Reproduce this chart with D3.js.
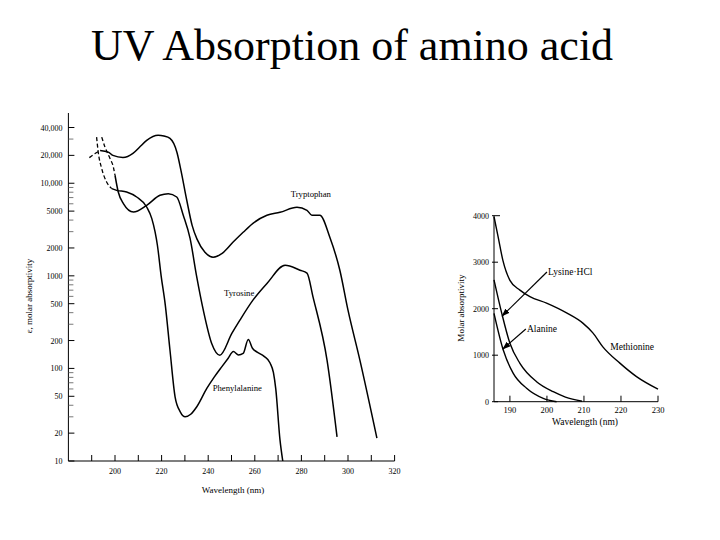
<!DOCTYPE html>
<html>
<head>
<meta charset="utf-8">
<script src="https://cdn.jsdelivr.net/npm/d3@7"></script>
<style>
  html, body { margin: 0; padding: 0; background: #fff; }
  svg { display: block; font-family: "Liberation Serif", "DejaVu Serif", serif; }
</style>
</head>
<body>
<svg id="chart" width="720" height="540"></svg>
<script>
// ---------- Data: left panel (log scale) ----------
const trpDashW = [189.0, 191.3, 193.6];
const trpDashV = [18900, 20800, 22600];
const trpW = [193.6, 197.1, 199.1, 203.4, 207.7, 210.5, 213.6, 218.5, 221, 223.6, 226.6, 228.3, 230.8, 233.1, 235.2, 238.6, 242.1, 246, 250.6, 255, 259.2, 265.2, 270.8, 278.1, 282.4, 284.5, 287.9, 292.2, 296.5, 300, 305.1, 312.4];
const trpV = [22600, 21700, 20000, 19000, 21000, 24500, 29000, 32900, 32300, 30500, 21500, 13800, 6550, 3510, 2490, 1800, 1590, 1750, 2300, 2950, 3690, 4510, 4850, 5500, 5100, 4510, 4510, 2610, 1150, 426, 123, 17.7];

const tyrDashW = [194.3, 195.7, 197.9, 199.3, 200];
const tyrDashV = [31500, 24600, 18400, 14960, 12200];
const tyrW = [200, 201.4, 203.6, 207.9, 213.6, 219.3, 222.9, 226.5, 229.3, 232.2, 235, 237.9, 241.5, 245, 250.2, 253.6, 259.2, 265.3, 273, 279.4, 282.4, 285, 291, 295.3];
const tyrV = [12200, 8040, 6030, 4890, 5780, 7410, 7720, 7100, 4510, 2550, 1000, 426, 186, 139, 240, 332, 546, 832, 1300, 1150, 1070, 588, 123, 18.2];

const pheDashW = [192.1, 192.8, 194.3, 196.4, 198.6];
const pheDashV = [31500, 21700, 14400, 10300, 8750];
const pheW = [198.6, 200.7, 205, 209.3, 213.6, 215.8, 217.2, 218.2, 219.8, 221.6, 223.6, 225.8, 228, 230.1, 232.5, 235.1, 239.4, 242.5, 245.8, 248.5, 250.8, 253, 255, 257.2, 259, 261, 264, 266.5, 268, 269, 270.8, 272];
const pheV = [8750, 8380, 8040, 7100, 5540, 4150, 2980, 2140, 1000, 480, 157, 49, 34, 30, 32, 38.5, 60.8, 80, 104, 128, 152, 140, 145, 205, 165, 150, 135, 115, 90, 60, 17, 10];

const leftXTicks = [190, 200, 210, 220, 230, 240, 250, 260, 270, 280, 290, 300, 310, 320];
const leftXLabels = [200, 220, 240, 260, 280, 300, 320];
const leftYLabels = [10, 20, 50, 100, 200, 500, 1000, 2000, 5000, 10000, 20000, 40000];
const leftYMinor = [30, 40, 60, 70, 80, 90, 300, 400, 600, 700, 800, 900, 3000, 4000, 6000, 7000, 8000, 9000, 30000];

const leftNames = ["Tryptophan", "Tyrosine", "Phenylalanine"];
const leftNameW = [275.4, 246.8, 241.9];
const leftNameV = [7050, 603, 57];

// ---------- Data: right panel (linear scale) ----------
const metW = [185.7, 186.8, 188.1, 190, 192.7, 195.4, 199.9, 205.3, 209.7, 212.4, 215.1, 219.7, 224.2, 230];
const metV = [3980, 3550, 3040, 2610, 2400, 2260, 2120, 1910, 1690, 1480, 1180, 830, 540, 270];
const lysW = [185.7, 187.8, 190, 192.7, 197.2, 201.7, 205, 209.5];
const lysV = [2620, 1900, 1255, 825, 430, 215, 100, 10];
const alaW = [185.7, 188.2, 190.9, 194.5, 199, 202.6];
const alaV = [1900, 1110, 610, 290, 73, 0];

const rightXTicks = [190, 200, 210, 220, 230];
const rightYTicks = [0, 1000, 2000, 3000, 4000];

const rightNames = ["Lysine·HCl", "Alanine", "Methionine"];
const rightNameW = [200.3, 194.6, 217.1];
const rightNameV = [2720, 1500, 1110];
// arrows: [from wavelength, from value, to wavelength, to value]
const arrowFromW = [200.0, 194.3];
const arrowFromV = [2790, 1563];
const arrowToW = [187.9, 188.1];
const arrowToV = [1843, 1133];

// ---------- Drawing ----------
const svg = d3.select("#chart");

svg.append("text")
  .attr("x", 352).attr("y", 60)
  .attr("text-anchor", "middle")
  .attr("font-size", 44)
  .attr("fill", "#000")
  .text("UV Absorption of amino acid");

// Left panel scales
const xL = d3.scaleLinear().domain([180, 320]).range([68.4, 394.6]);
const yL = d3.scaleLog().domain([10, 40000]).range([461, 127.5]);

const gL = svg.append("g");
gL.append("line").attr("x1", xL(180)).attr("x2", xL(180))
  .attr("y1", 113).attr("y2", yL(10)).attr("stroke", "#000").attr("stroke-width", 1);
gL.append("line").attr("x1", xL(180)).attr("x2", xL(320))
  .attr("y1", yL(10)).attr("y2", yL(10)).attr("stroke", "#000").attr("stroke-width", 1.2);

leftYLabels.forEach(v => {
  gL.append("line").attr("x1", xL(180)).attr("x2", xL(180) + 6)
    .attr("y1", yL(v)).attr("y2", yL(v)).attr("stroke", "#000");
  gL.append("text").attr("x", xL(180) - 6).attr("y", yL(v) + 3)
    .attr("text-anchor", "end").attr("font-size", 8).attr("fill", "#000")
    .text(v >= 10000 ? d3.format(",")(v) : String(v));
});
leftYMinor.forEach(v => {
  gL.append("line").attr("x1", xL(180)).attr("x2", xL(180) + 5)
    .attr("y1", yL(v)).attr("y2", yL(v)).attr("stroke", "#555").attr("stroke-width", 0.8);
});
leftXTicks.forEach(w => {
  gL.append("line").attr("x1", xL(w)).attr("x2", xL(w))
    .attr("y1", yL(10)).attr("y2", yL(10) - 6).attr("stroke", "#000");
});
leftXLabels.forEach(w => {
  gL.append("text").attr("x", xL(w)).attr("y", 474)
    .attr("text-anchor", "middle").attr("font-size", 8).attr("fill", "#000").text(w);
});
gL.append("text").attr("x", 233).attr("y", 493).attr("text-anchor", "middle")
  .attr("font-size", 9).attr("fill", "#000").text("Wavelength (nm)");
gL.append("text").attr("transform", "translate(32,296) rotate(-90)")
  .attr("text-anchor", "middle").attr("font-size", 9).attr("fill", "#000")
  .text("ε, molar absorptivity");

const lineL = d3.line().x(d => xL(d[0])).y(d => yL(d[1])).curve(d3.curveMonotoneX);
const zip = (a, b) => a.map((v, i) => [v, b[i]]);

[[trpW, trpV], [tyrW, tyrV], [pheW, pheV]].forEach(([w, v]) => {
  gL.append("path").attr("d", lineL(zip(w, v)))
    .attr("fill", "none").attr("stroke", "#000").attr("stroke-width", 1.5);
});
[[trpDashW, trpDashV], [tyrDashW, tyrDashV], [pheDashW, pheDashV]].forEach(([w, v]) => {
  gL.append("path").attr("d", lineL(zip(w, v)))
    .attr("fill", "none").attr("stroke", "#000").attr("stroke-width", 1.3)
    .attr("stroke-dasharray", "4,2.5");
});
leftNames.forEach((n, i) => {
  gL.append("text").attr("x", xL(leftNameW[i])).attr("y", yL(leftNameV[i]))
    .attr("font-size", 8.7).attr("fill", "#000").text(n);
});

// Right panel scales
const xR = d3.scaleLinear().domain([185.7, 230]).range([494, 658]);
const yR = d3.scaleLinear().domain([0, 4000]).range([401.7, 215.7]);
const gR = svg.append("g");

gR.append("line").attr("x1", xR(185.7)).attr("x2", xR(185.7))
  .attr("y1", yR(4000)).attr("y2", yR(0)).attr("stroke", "#000");
gR.append("line").attr("x1", xR(185.7)).attr("x2", xR(230))
  .attr("y1", yR(0)).attr("y2", yR(0)).attr("stroke", "#000");

rightYTicks.forEach(v => {
  gR.append("line").attr("x1", xR(185.7) - 2).attr("x2", xR(185.7) + (v === 4000 ? 6 : 4))
    .attr("y1", yR(v)).attr("y2", yR(v)).attr("stroke", "#000");
  gR.append("text").attr("x", xR(185.7) - 5).attr("y", yR(v) + 3)
    .attr("text-anchor", "end").attr("font-size", 8).attr("fill", "#000").text(v);
});
rightXTicks.forEach(w => {
  gR.append("line").attr("x1", xR(w)).attr("x2", xR(w))
    .attr("y1", yR(0)).attr("y2", yR(0) - 6).attr("stroke", "#000");
  gR.append("text").attr("x", xR(w)).attr("y", 413)
    .attr("text-anchor", "middle").attr("font-size", 8.5).attr("fill", "#000").text(w);
});
gR.append("text").attr("x", 585).attr("y", 425).attr("text-anchor", "middle")
  .attr("font-size", 9.5).attr("fill", "#000").text("Wavelength (nm)");
gR.append("text").attr("transform", "translate(464,308) rotate(-90)")
  .attr("text-anchor", "middle").attr("font-size", 9).attr("fill", "#000")
  .text("Molar absorptivity");

const lineR = d3.line().x(d => xR(d[0])).y(d => yR(d[1])).curve(d3.curveMonotoneX);
[[metW, metV], [lysW, lysV], [alaW, alaV]].forEach(([w, v]) => {
  gR.append("path").attr("d", lineR(zip(w, v)))
    .attr("fill", "none").attr("stroke", "#000").attr("stroke-width", 1.4);
});
rightNames.forEach((n, i) => {
  gR.append("text").attr("x", xR(rightNameW[i])).attr("y", yR(rightNameV[i]))
    .attr("font-size", 9.5).attr("fill", "#000").text(n);
});

svg.append("defs").append("marker")
  .attr("id", "arr").attr("viewBox", "0 0 10 10").attr("refX", 9).attr("refY", 5)
  .attr("markerWidth", 7).attr("markerHeight", 7).attr("orient", "auto")
  .append("path").attr("d", "M0,1.5 L10,5 L0,8.5 Z").attr("fill", "#000");

arrowFromW.forEach((w, i) => {
  gR.append("line")
    .attr("x1", xR(w)).attr("y1", yR(arrowFromV[i]))
    .attr("x2", xR(arrowToW[i])).attr("y2", yR(arrowToV[i]))
    .attr("stroke", "#000").attr("stroke-width", 1.2)
    .attr("marker-end", "url(#arr)");
});
</script>
</body>
</html>
